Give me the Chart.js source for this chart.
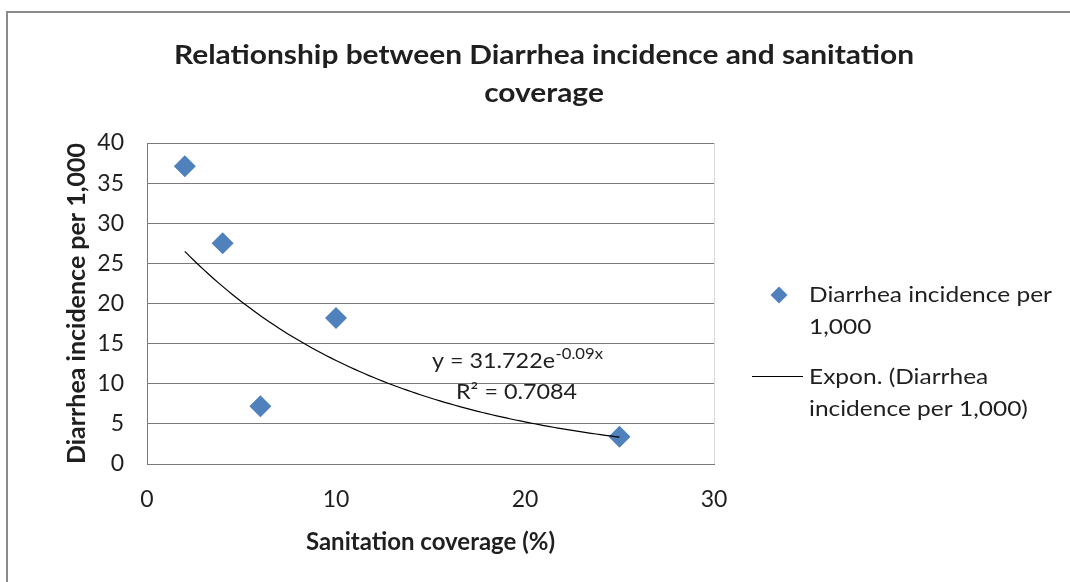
<!DOCTYPE html>
<html>
<head>
<meta charset="utf-8">
<script src="https://cdn.jsdelivr.net/npm/chart.js@4.4.1/dist/chart.umd.min.js"></script>
<style>
  html, body { margin: 0; padding: 0; background: #ffffff; overflow: hidden; }
  #wrap { position: relative; width: 1070px; height: 582px; }
</style>
</head>
<body>
<div id="wrap"><canvas id="chart" width="1070" height="582"></canvas></div>
<script>
// ---- data ----
const sanitationCoverage = [2, 4, 6, 10, 25];          // %
const diarrheaIncidence  = [37.1, 27.5, 7.2, 18.2, 3.4]; // per 1,000
const xTickValues = [0, 10, 20, 30];
const yTickValues = [0, 5, 10, 15, 20, 25, 30, 35, 40];

// exponential trendline y = a * e^(b x), as printed on the chart
const trendA = 31.722;
const trendB = -0.09;
const trendR2 = 0.7084;

const titleLines = ['Relationship between Diarrhea incidence and sanitation', 'coverage'];
const xAxisTitle = 'Sanitation coverage (%)';
const yAxisTitle = 'Diarrhea incidence per 1,000';
const seriesName = 'Diarrhea incidence per 1,000';
const trendName  = 'Expon. (Diarrhea incidence per 1,000)';
const seriesLegendLines = ['Diarrhea incidence per', '1,000'];
const trendLegendLines  = ['Expon. (Diarrhea', 'incidence per 1,000)'];

// ---- styles ----
const BLUE = '#4f81bd';
const GRID = '#7a7a7a';
const TEXT = '#1f1f1f';
const FONT = 'Lato, "Open Sans", sans-serif';

// trendline samples across the observed x range
const trendX = [];
for (let x = Math.min(...sanitationCoverage); x <= Math.max(...sanitationCoverage) + 1e-9; x += 0.25) trendX.push(x);
const trendPoints = trendX.map(x => ({ x, y: trendA * Math.exp(trendB * x) }));

const scatterPoints = sanitationCoverage.map((x, i) => ({ x, y: diarrheaIncidence[i] }));

// draw text horizontally scaled so that the first line spans a given width
function scaledText(ctx, lines, font, x, ys, refWidth, align) {
  ctx.save();
  ctx.font = font;
  const sx = refWidth / ctx.measureText(lines[0]).width;
  ctx.textBaseline = 'middle';
  ctx.fillStyle = TEXT;
  lines.forEach((t, i) => {
    const w = ctx.measureText(t).width * sx;
    const lx = align === 'center' ? x - w / 2 : x;
    ctx.save();
    ctx.translate(lx, ys[i]);
    ctx.scale(sx, 1);
    ctx.textAlign = 'left';
    ctx.fillText(t, 0, 0);
    ctx.restore();
  });
  ctx.restore();
  return sx;
}

const decor = {
  id: 'decor',
  beforeDraw(chart) {
    const ctx = chart.ctx;
    ctx.save();
    ctx.fillStyle = '#ffffff';
    ctx.fillRect(0, 0, chart.width, chart.height);
    // outer chart frame (continues past the right and bottom edges)
    ctx.strokeStyle = '#8a8a8a';
    ctx.lineWidth = 2;
    ctx.beginPath();
    ctx.moveTo(7, chart.height + 2);
    ctx.lineTo(7, 12);
    ctx.lineTo(chart.width + 2, 12);
    ctx.stroke();
    ctx.restore();
  },
  afterDraw(chart) {
    const ctx = chart.ctx;
    const area = chart.chartArea;

    // right edge of the plot area
    ctx.save();
    ctx.strokeStyle = '#d9d9d9';
    ctx.lineWidth = 1;
    ctx.beginPath();
    ctx.moveTo(Math.round(area.right) + 0.5, area.top);
    ctx.lineTo(Math.round(area.right) + 0.5, area.bottom);
    ctx.stroke();
    ctx.restore();

    // title
    scaledText(ctx, titleLines, 'bold 27px ' + FONT, 544, [55, 93], 740, 'center');

    // trendline equation and R²
    ctx.save();
    ctx.fillStyle = TEXT;
    ctx.textBaseline = 'middle';
    const mainTxt = 'y = ' + trendA + 'e';
    const supTxt = trendB + 'x';
    ctx.font = '21px ' + FONT;
    const mainW = ctx.measureText(mainTxt).width;
    const eqSx = 123 / mainW;
    ctx.save();
    ctx.translate(432, 361);
    ctx.scale(eqSx, 1);
    ctx.fillText(mainTxt, 0, 0);
    ctx.font = '15px ' + FONT;
    ctx.fillText(supTxt, mainW + 0.5, -7);
    ctx.restore();
    ctx.font = '21px ' + FONT;
    const r2Txt = 'R\u00b2 = ' + trendR2;
    ctx.save();
    ctx.translate(456, 392);
    ctx.scale(eqSx, 1);
    ctx.fillText(r2Txt, 0, 0);
    ctx.restore();
    ctx.restore();

    // legend
    const sData = chart.data.datasets[1];
    const tData = chart.data.datasets[0];
    ctx.save();
    ctx.fillStyle = sData.backgroundColor;
    const mx = 779, my = 295, mr = 8.5;
    ctx.beginPath();
    ctx.moveTo(mx, my - mr);
    ctx.lineTo(mx + mr, my);
    ctx.lineTo(mx, my + mr);
    ctx.lineTo(mx - mr, my);
    ctx.closePath();
    ctx.fill();
    ctx.strokeStyle = tData.borderColor;
    ctx.lineWidth = 1.2;
    ctx.beginPath();
    ctx.moveTo(752, 376.5);
    ctx.lineTo(803, 376.5);
    ctx.stroke();
    ctx.restore();
    const lsx = scaledText(ctx, seriesLegendLines, '22px ' + FONT, 809, [295, 327], 243, 'left');
    ctx.save();
    ctx.font = '22px ' + FONT;
    ctx.fillStyle = TEXT;
    ctx.textBaseline = 'middle';
    trendLegendLines.forEach((t, i) => {
      ctx.save();
      ctx.translate(809, [377, 409][i]);
      ctx.scale(lsx, 1);
      ctx.fillText(t, 0, 0);
      ctx.restore();
    });
    ctx.restore();
  }
};

new Chart(document.getElementById('chart'), {
  type: 'scatter',
  data: {
    datasets: [
      {
        label: trendName,
        type: 'line',
        data: trendPoints,
        borderColor: '#000000',
        borderWidth: 1.2,
        pointRadius: 0,
        fill: false,
        tension: 0,
        order: 0
      },
      {
        label: seriesName,
        data: scatterPoints,
        pointStyle: 'rectRot',
        pointRadius: 11,
        pointHoverRadius: 11,
        backgroundColor: BLUE,
        borderColor: BLUE,
        borderWidth: 0,
        order: 1
      }
    ]
  },
  options: {
    responsive: false,
    animation: false,
    devicePixelRatio: 1,
    events: [],
    layout: { padding: { top: 143, left: 50, right: 356, bottom: 0 } },
    plugins: {
      legend: { display: false },
      title: { display: false },
      tooltip: { enabled: false }
    },
    scales: {
      x: {
        type: 'linear',
        min: 0,
        max: 30,
        afterBuildTicks: s => { s.ticks = xTickValues.map(v => ({ value: v })); },
        afterFit: s => { s.height = 118; },
        grid: { display: false, drawTicks: false },
        border: { display: true, color: GRID, width: 1 },
        ticks: { padding: 22, color: TEXT, font: { family: FONT, size: 23 } },
        title: {
          display: true,
          text: xAxisTitle,
          color: TEXT,
          font: { family: FONT, size: 24, weight: 'bold' },
          padding: { top: 0, bottom: 25 }
        }
      },
      y: {
        type: 'linear',
        min: 0,
        max: 40,
        afterBuildTicks: s => { s.ticks = yTickValues.map(v => ({ value: v })); },
        afterFit: s => { s.width = 97; },
        grid: { display: true, color: GRID, lineWidth: 1, drawTicks: false },
        border: { display: true, color: GRID, width: 1 },
        ticks: { padding: 23, color: TEXT, font: { family: FONT, size: 23 } },
        title: {
          display: true,
          text: yAxisTitle,
          color: TEXT,
          font: { family: FONT, size: 25, weight: 'bold' },
          padding: { top: 12, bottom: 0 }
        }
      }
    }
  },
  plugins: [decor]
});
</script>
</body>
</html>
